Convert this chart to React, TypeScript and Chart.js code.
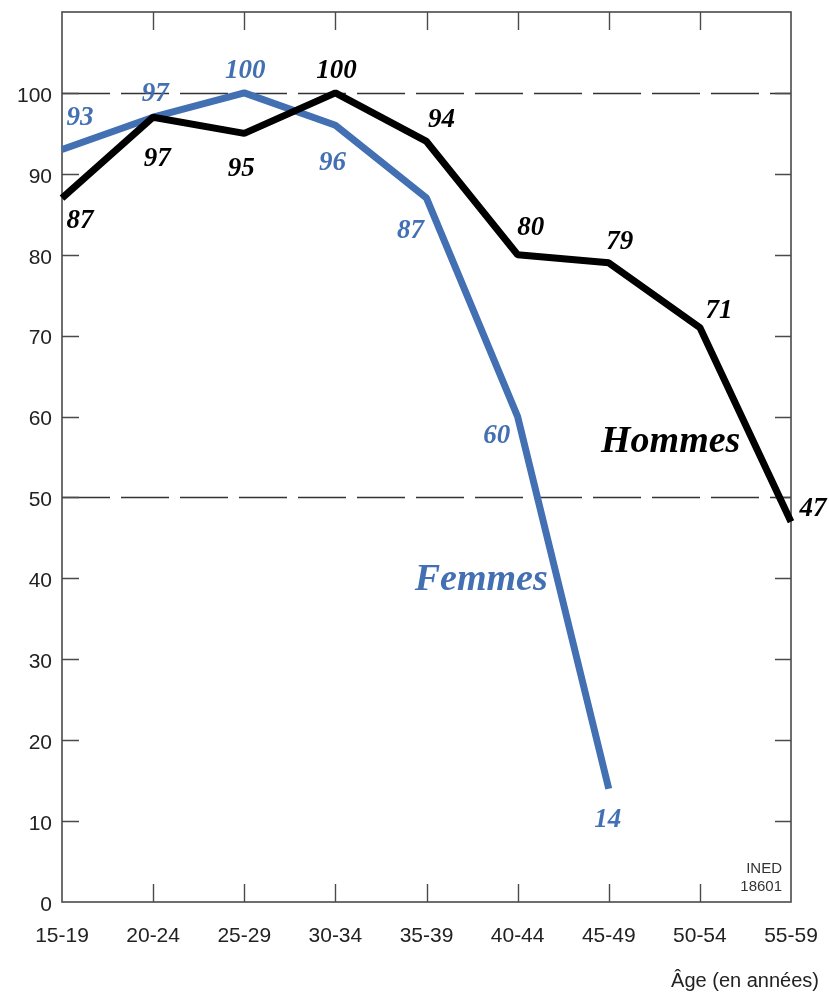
import React, { useEffect, useRef } from "react";
import { Chart, registerables } from "chart.js";

Chart.register(...registerables);

const ageGroups = ["15-19", "20-24", "25-29", "30-34", "35-39", "40-44", "45-49", "50-54", "55-59"];
const hommesValues = [87, 97, 95, 100, 94, 80, 79, 71, 47];
const femmesValues = [93, 97, 100, 96, 87, 60, 14];
const referenceLines = [100, 50];
const yTickValues = [0, 10, 20, 30, 40, 50, 60, 70, 80, 90, 100];

// label offsets (px) from each point, style only
const hommesLabelOffsets = [[18, 23], [4, 42], [-3, 36], [1, -22], [15, -21], [13, -27], [11, -21], [19, -17], [22, -13]];
const femmesLabelOffsets = [[18, -32], [2, -23], [1, -22], [-3, 38], [-16, 33], [-21, 19], [-1, 31]];

const BLUE = "#4270b3";
const FRAME = "#4a4a4a";
const LABEL_FONT = "bold italic 27px 'Liberation Serif', 'DejaVu Serif', serif";
const SERIES_FONT = "bold italic 38px 'Liberation Serif', 'DejaVu Serif', serif";
const SANS = "'Liberation Sans', Arial, sans-serif";

const decorPlugin = {
  id: "decor",
  beforeDatasetsDraw(chart: any) {
    const { ctx, chartArea: a, scales } = chart;
    const x = scales.x;
    const y = scales.y;
    ctx.save();
    // dashed reference lines
    ctx.strokeStyle = "#333";
    ctx.lineWidth = 1.5;
    ctx.setLineDash([48, 11]);
    referenceLines.forEach((v) => {
      const py = Math.round(y.getPixelForValue(v)) + 0.5;
      ctx.beginPath();
      ctx.moveTo(a.left, py);
      ctx.lineTo(a.right, py);
      ctx.stroke();
    });
    ctx.setLineDash([]);
    // frame
    ctx.strokeStyle = FRAME;
    ctx.lineWidth = 1.6;
    ctx.strokeRect(a.left, a.top, a.right - a.left, a.bottom - a.top);
    // inward ticks
    ctx.lineWidth = 1.4;
    ctx.beginPath();
    for (let i = 1; i < ageGroups.length - 1; i++) {
      const px = Math.round(x.getPixelForValue(i)) + 0.5;
      ctx.moveTo(px, a.bottom);
      ctx.lineTo(px, a.bottom - 18);
      ctx.moveTo(px, a.top);
      ctx.lineTo(px, a.top + 18);
    }
    yTickValues.forEach((v) => {
      if (v === 0) return;
      const py = Math.round(y.getPixelForValue(v)) + 0.5;
      ctx.moveTo(a.left, py);
      ctx.lineTo(a.left + 17, py);
      ctx.moveTo(a.right, py);
      ctx.lineTo(a.right - 16, py);
    });
    ctx.stroke();
    ctx.restore();
  },
  afterDatasetsDraw(chart: any) {
    const { ctx, chartArea: a, scales } = chart;
    ctx.save();
    ctx.textAlign = "center";
    ctx.textBaseline = "middle";
    ctx.font = LABEL_FONT;
    const drawLabels = (dsIndex: number, values: number[], offsets: number[][], color: string) => {
      const meta = chart.getDatasetMeta(dsIndex);
      ctx.fillStyle = color;
      meta.data.forEach((pt: any, i: number) => {
        const o = offsets[i] || [0, 0];
        ctx.fillText(String(values[i]), pt.x + o[0], pt.y + o[1]);
      });
    };
    drawLabels(0, hommesValues, hommesLabelOffsets, "#000");
    drawLabels(1, femmesValues, femmesLabelOffsets, BLUE);
    // series names
    ctx.font = SERIES_FONT;
    ctx.fillStyle = "#000";
    ctx.fillText("Hommes", scales.x.getPixelForValue(6.68), scales.y.getPixelForValue(56.8));
    ctx.fillStyle = BLUE;
    ctx.fillText("Femmes", scales.x.getPixelForValue(4.6), scales.y.getPixelForValue(39.75));
    // source
    ctx.fillStyle = "#333";
    ctx.font = `15px ${SANS}`;
    ctx.textAlign = "right";
    ctx.fillText("INED", a.right - 9, a.bottom - 33);
    ctx.fillText("18601", a.right - 9, a.bottom - 15);
    // axis title
    ctx.fillStyle = "#222";
    ctx.font = `20px ${SANS}`;
    ctx.fillText("Âge (en années)", chart.width - 10, a.bottom + 79);
    ctx.restore();
  },
};

export default function App() {
  const ref = useRef<HTMLCanvasElement | null>(null);
  useEffect(() => {
    if (!ref.current) return;
    const chart = new Chart(ref.current, {
      type: "line",
      data: {
        labels: ageGroups,
        datasets: [
          {
            label: "Hommes",
            data: hommesValues,
            borderColor: "#000",
            borderWidth: 7,
            pointRadius: 0,
            borderJoinStyle: "bevel",
            borderCapStyle: "butt",
            tension: 0,
            order: 0,
          },
          {
            label: "Femmes",
            data: femmesValues,
            borderColor: BLUE,
            borderWidth: 7,
            pointRadius: 0,
            borderJoinStyle: "bevel",
            borderCapStyle: "butt",
            tension: 0,
            order: 1,
          },
        ],
      },
      options: {
        animation: false,
        responsive: true,
        maintainAspectRatio: false,
        layout: { padding: { top: 12, right: 38, left: 0, bottom: 0 } },
        plugins: { legend: { display: false }, tooltip: { enabled: false } },
        scales: {
          x: {
            type: "category",
            offset: false,
            grid: { display: false, drawTicks: false },
            border: { display: false },
            ticks: {
              color: "#222",
              font: { family: SANS, size: 21 },
              padding: 22,
              maxRotation: 0,
              autoSkip: false,
            },
            afterFit: (s: any) => {
              s.height = 90;
              s.paddingLeft = 0;
              s.paddingRight = 0;
            },
          },
          y: {
            min: 0,
            max: 110,
            grid: { display: false, drawTicks: false },
            border: { display: false },
            ticks: {
              stepSize: 10,
              color: "#222",
              font: { family: SANS, size: 21 },
              padding: 10,
              labelOffset: 3,
              callback: (v: any) => (yTickValues.includes(Number(v)) ? String(v) : ""),
            },
            afterFit: (s: any) => {
              s.width = 62;
              s.paddingTop = 0;
              s.paddingBottom = 0;
            },
          },
        },
      },
      plugins: [decorPlugin],
    } as any);
    return () => chart.destroy();
  }, []);
  return (
    <div style={{ position: "absolute", left: 0, top: 0, width: 829, height: 992, background: "#fff" }}>
      <canvas ref={ref} />
    </div>
  );
}
